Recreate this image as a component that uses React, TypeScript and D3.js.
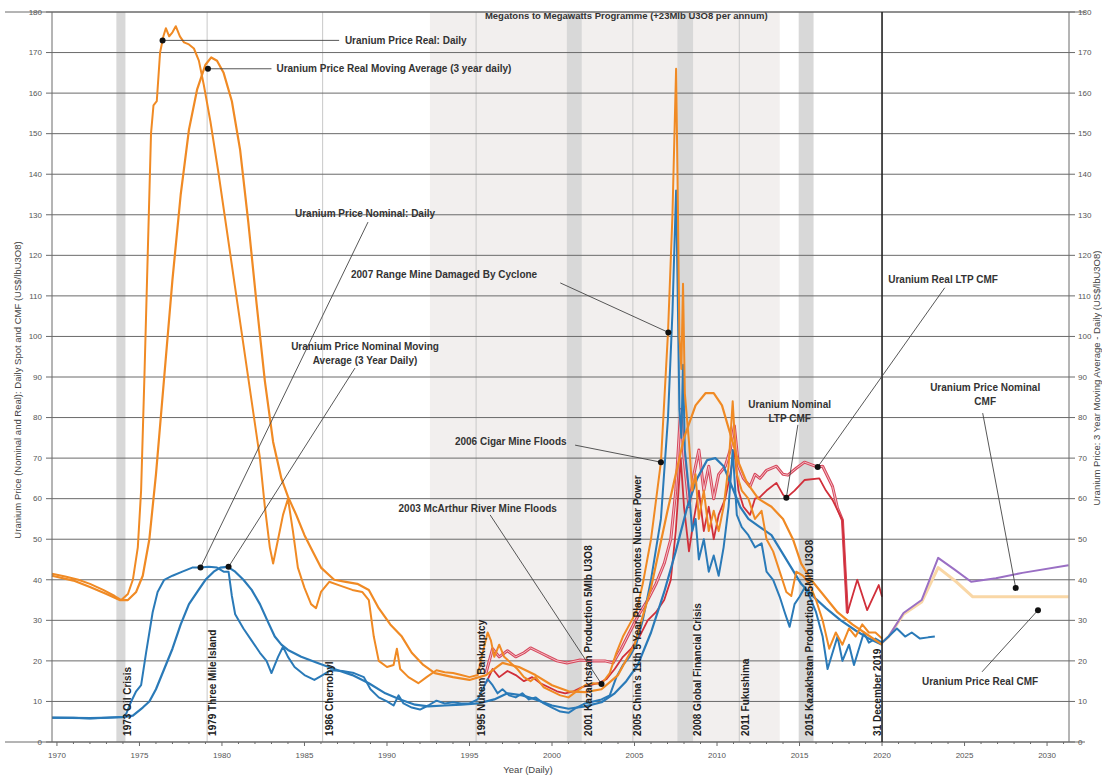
import React, { useEffect, useRef } from 'react';
import * as d3 from 'd3';

type Pt = [number, number];

// ---- series (year, US$/lb) ----
const realDaily: Pt[] = [
  [1969.7, 41.5], [1970.5, 40.8], [1971.3, 40], [1972, 39], [1972.8, 37.5], [1973.5, 36], [1973.9, 35],
  [1974.3, 36.5], [1974.6, 40], [1974.9, 48], [1975.1, 62], [1975.3, 90], [1975.5, 120], [1975.7, 150],
  [1975.85, 157], [1976.05, 158], [1976.25, 170], [1976.45, 174], [1976.6, 176], [1976.8, 174], [1977.0, 175],
  [1977.2, 176.5], [1977.45, 174], [1977.7, 172.5], [1978.0, 172], [1978.3, 171], [1978.6, 168], [1978.9, 162],
  [1979.3, 153], [1979.8, 140], [1980.3, 126], [1980.8, 112], [1981.3, 98], [1981.8, 84], [1982.3, 70],
  [1982.6, 58], [1982.9, 48], [1983.1, 44], [1983.4, 50], [1983.7, 56], [1984.0, 60], [1984.3, 52],
  [1984.6, 43], [1985.0, 38], [1985.4, 34], [1985.7, 33], [1986.0, 37], [1986.5, 39.5], [1987.2, 38.5],
  [1987.9, 37.5], [1988.5, 37], [1988.9, 35], [1989.2, 26], [1989.5, 20], [1990.0, 18.5], [1990.4, 19],
  [1990.6, 23], [1990.8, 18], [1991.3, 16], [1991.9, 14.5], [1992.4, 16], [1993.0, 17.7], [1993.5, 17.2],
  [1994.0, 17], [1994.5, 16.5], [1995.0, 16], [1995.5, 16.5], [1995.8, 22], [1996.1, 27], [1996.3, 25],
  [1996.5, 21], [1996.8, 24], [1997.1, 21], [1997.5, 19.5], [1997.9, 18], [1998.3, 16], [1998.7, 15],
  [1999.0, 16], [1999.5, 13.5], [2000.0, 12.5], [2000.5, 11.5], [2001.0, 11], [2001.5, 12.5], [2002.0, 14],
  [2002.5, 14.5], [2003.0, 14.3], [2003.5, 17], [2003.9, 22], [2004.3, 26], [2004.7, 29], [2005.1, 32],
  [2005.5, 39], [2006.0, 50], [2006.6, 69], [2007.03, 101], [2007.3, 130], [2007.52, 166], [2007.62, 135],
  [2007.72, 100], [2007.84, 92], [2007.94, 113], [2008.05, 86], [2008.3, 74], [2008.5, 62], [2008.7, 66],
  [2008.9, 55], [2009.2, 62], [2009.5, 52], [2009.8, 57], [2010.1, 52], [2010.4, 58], [2010.7, 68],
  [2010.95, 84], [2011.2, 66], [2011.5, 62], [2011.9, 60], [2012.3, 55], [2012.7, 57], [2013.0, 50],
  [2013.4, 47], [2013.8, 42], [2014.2, 37], [2014.5, 36], [2014.8, 42], [2015.2, 41], [2015.6, 39],
  [2016.0, 35], [2016.4, 30], [2016.8, 23], [2017.2, 27], [2017.6, 24], [2018.0, 28], [2018.4, 26],
  [2018.8, 29], [2019.2, 27], [2019.6, 27], [2020.0, 25.5],
];

const realMA: Pt[] = [
  [1969.7, 41], [1971, 39.8], [1972, 38.2], [1973, 36.5], [1973.8, 35], [1974.3, 35], [1974.8, 37],
  [1975.2, 41], [1975.6, 50], [1976.0, 66], [1976.5, 90], [1977.0, 114], [1977.5, 135], [1978.0, 151],
  [1978.5, 161], [1979.0, 167], [1979.35, 168.8], [1979.7, 168], [1980.1, 165], [1980.6, 158], [1981.1, 146],
  [1981.6, 128], [1982.1, 108], [1982.6, 89], [1983.1, 74], [1983.6, 65], [1984.0, 60.5], [1984.5, 56],
  [1985.0, 51], [1985.5, 47], [1986.0, 43], [1986.8, 40], [1987.5, 39.5], [1988.2, 39], [1988.9, 37.5],
  [1989.5, 33], [1990.2, 29], [1990.9, 26], [1991.5, 22], [1992.2, 19], [1992.9, 17], [1994, 16],
  [1995, 15.3], [1996, 16.5], [1997, 19.5], [1998, 18.5], [1999, 16.5], [2000, 14], [2001, 12.5],
  [2002, 12.3], [2003, 13], [2004, 16.5], [2005, 24], [2006, 38], [2007, 57], [2008, 75], [2008.7, 83],
  [2009.3, 86], [2009.8, 86], [2010.3, 83], [2010.8, 76], [2011.3, 69], [2011.8, 64], [2012.5, 60],
  [2013.3, 58], [2014.0, 55], [2014.6, 50], [2015.1, 44], [2015.7, 40], [2016.5, 36], [2017.3, 32],
  [2018.2, 29], [2019.1, 26.5], [2020.0, 24],
];

const nominalDaily: Pt[] = [
  [1969.7, 6], [1971, 6], [1972, 5.8], [1973, 6], [1974.0, 6.2], [1974.2, 7], [1974.5, 10], [1974.8, 12.5],
  [1975.1, 14], [1975.4, 22], [1975.8, 32], [1976.1, 37], [1976.5, 40], [1977.0, 41], [1977.6, 42],
  [1978.2, 43], [1978.7, 43], [1979.2, 43.2], [1979.7, 43], [1980.1, 42], [1980.4, 42], [1980.6, 36],
  [1980.8, 31.5], [1981.3, 28], [1981.8, 25], [1982.3, 22], [1982.7, 20], [1983.0, 17], [1983.4, 21],
  [1983.7, 23.5], [1984.0, 21], [1984.4, 18.5], [1985.0, 16.5], [1985.6, 15.3], [1986.1, 16.5], [1986.6, 17.7],
  [1987.3, 17.5], [1988.0, 17], [1988.6, 16], [1989.0, 13], [1989.5, 11], [1990.0, 10], [1990.4, 9],
  [1990.7, 11.5], [1991.0, 9.5], [1991.5, 8.5], [1992.0, 8], [1992.5, 9], [1993.0, 10.2], [1993.5, 9.5],
  [1994.0, 9.8], [1994.5, 9.5], [1995.0, 9.5], [1995.5, 10.5], [1995.8, 13], [1996.1, 15.5], [1996.4, 14],
  [1996.7, 12], [1997.0, 13], [1997.4, 11.5], [1997.8, 11], [1998.2, 12], [1998.6, 10.5], [1999.0, 11],
  [1999.5, 9.5], [2000.0, 8.5], [2000.5, 7.5], [2001.0, 7.2], [2001.5, 8.5], [2002.0, 9.5], [2002.5, 10],
  [2003.0, 10.5], [2003.5, 11.5], [2003.9, 16], [2004.3, 19], [2004.7, 21], [2005.1, 24], [2005.5, 30],
  [2006.0, 40], [2006.6, 55], [2007.03, 80], [2007.3, 106], [2007.52, 136], [2007.62, 110], [2007.72, 82],
  [2007.84, 75], [2007.94, 93], [2008.05, 72], [2008.3, 62], [2008.5, 52], [2008.7, 55], [2008.9, 45],
  [2009.2, 50], [2009.5, 42], [2009.8, 46], [2010.1, 41], [2010.4, 48], [2010.7, 58], [2010.95, 72],
  [2011.2, 56], [2011.5, 53], [2011.9, 51], [2012.3, 48], [2012.7, 49], [2013.0, 42], [2013.4, 40],
  [2013.8, 35.8], [2014.1, 32], [2014.4, 28.4], [2014.7, 34], [2015.0, 35.8], [2015.3, 38], [2015.6, 36],
  [2016.0, 32], [2016.4, 26], [2016.7, 18], [2017.0, 22], [2017.3, 26], [2017.6, 20], [2018.0, 24],
  [2018.3, 19], [2018.6, 23], [2018.9, 27], [2019.2, 24.5], [2019.6, 25.5], [2020.0, 24.5], [2020.4, 26],
  [2020.9, 28], [2021.4, 26], [2021.8, 27], [2022.3, 25.5], [2022.8, 25.8], [2023.2, 26],
];

const nominalMA: Pt[] = [
  [1969.7, 6], [1972, 5.9], [1974.0, 6.1], [1974.6, 6.5], [1975.2, 8.5], [1975.6, 10], [1976.0, 13],
  [1976.5, 18], [1977.0, 23], [1977.5, 29], [1978.0, 34], [1978.5, 37], [1979.0, 40], [1979.5, 42],
  [1979.9, 43], [1980.35, 43.2], [1980.8, 42], [1981.3, 40], [1981.8, 37.5], [1982.3, 34], [1982.8, 29.5],
  [1983.2, 26], [1983.6, 24], [1984.0, 22.7], [1984.8, 21], [1985.8, 19.5], [1986.8, 18], [1987.9, 16.5],
  [1988.9, 14.5], [1989.9, 12], [1990.8, 10.5], [1991.7, 9.2], [1992.5, 8.8], [1993.5, 9.0], [1994.5, 9.2],
  [1995.5, 9.5], [1996.5, 10.5], [1997.3, 12], [1998.2, 11.5], [1999.0, 10.5], [2000.0, 9], [2001.0, 8.2],
  [2002.0, 8.8], [2003.0, 9.8], [2003.8, 12], [2004.5, 15], [2005.2, 19], [2006.0, 27], [2006.8, 37],
  [2007.5, 47], [2008.2, 58], [2008.8, 65], [2009.4, 69.5], [2009.9, 70], [2010.4, 68], [2010.9, 63],
  [2011.4, 58], [2011.9, 55], [2012.6, 53], [2013.3, 51], [2013.9, 47], [2014.5, 43], [2015.1, 39],
  [2015.8, 36], [2016.6, 33], [2017.5, 30], [2018.4, 27.5], [2019.2, 25.5], [2020.0, 24],
];

const nominalLTP: Pt[] = [
  [1996.0, 14.5], [1996.4, 18], [1996.8, 16], [1997.3, 17.5], [1997.8, 16.5], [1998.3, 15], [1998.8, 16],
  [1999.3, 14.5], [1999.8, 13.5], [2000.3, 12.5], [2000.8, 12], [2001.3, 12.5], [2001.8, 13.5], [2002.3, 14],
  [2002.8, 14.5], [2003.3, 15.5], [2003.8, 18], [2004.3, 21], [2004.8, 23], [2005.3, 26], [2005.8, 30],
  [2006.3, 32], [2006.8, 35], [2007.2, 40], [2007.5, 52], [2007.8, 70], [2008.0, 58], [2008.3, 47],
  [2008.6, 55], [2008.9, 62], [2009.2, 52], [2009.5, 58], [2009.8, 50], [2010.1, 56], [2010.5, 60],
  [2010.8, 66], [2011.05, 72], [2011.3, 62], [2011.6, 58], [2012.0, 56], [2012.3, 60], [2012.6, 60.4],
  [2013.0, 62], [2013.6, 63.9], [2014.0, 61], [2014.2, 60.2], [2014.7, 62], [2015.3, 64.6], [2016.2, 65],
  [2016.6, 62], [2017.0, 59.7], [2017.6, 54.7], [2017.9, 31.8], [2018.5, 40], [2019.1, 32.5], [2019.8, 38.7],
  [2020.0, 35.8],
];

const realLTP: Pt[] = [
  [1996.0, 17], [1996.4, 23], [1996.8, 21], [1997.3, 22.5], [1997.8, 21], [1998.3, 22], [1998.7, 23.2],
  [1999.3, 22], [1999.8, 21], [2000.3, 20], [2000.9, 19.5], [2001.7, 20.2], [2002.5, 20], [2003.2, 20],
  [2003.7, 19.5], [2004.2, 23], [2004.7, 27], [2005.2, 31], [2005.8, 35], [2006.3, 39], [2006.8, 44],
  [2007.2, 50], [2007.5, 62], [2007.8, 82], [2008.0, 70], [2008.3, 58], [2008.6, 66], [2008.9, 72],
  [2009.2, 62], [2009.5, 68], [2009.8, 60], [2010.1, 66], [2010.5, 68], [2010.8, 72], [2011.05, 78],
  [2011.3, 68], [2011.6, 65], [2012.0, 63], [2012.3, 66], [2012.6, 65], [2013.0, 67], [2013.6, 68],
  [2014.0, 66], [2014.3, 65.8], [2014.8, 67.5], [2015.3, 69], [2016.1, 67.8], [2016.4, 68], [2017.0, 63],
  [2017.3, 57.7], [2017.6, 54.7], [2017.9, 31.8],
];

const nominalCMF: Pt[] = [
  [2020.0, 24.5], [2020.4, 26], [2021.3, 31.8], [2022.4, 35], [2023.4, 45.4], [2024.4, 42.5],
  [2025.4, 39.5], [2026.9, 40.4], [2028.5, 41.7], [2031.3, 43.6],
];

const realCMF: Pt[] = [
  [2020.0, 24.5], [2020.4, 26], [2021.3, 31.5], [2022.4, 34.5], [2023.4, 43], [2024.5, 39.5],
  [2025.5, 35.8], [2031.3, 35.8],
];

// ---- axes ----
const yTicks = d3.range(0, 181, 10);
const xMajor = d3.range(1970, 2031, 5);
const xMinor = d3.range(1970, 2032, 1);

// ---- events ----
const megatonsBand: Pt = [1992.6, 2013.8];
const eventBands: Pt[] = [[1973.6, 1974.15], [2000.9, 2001.8], [2007.6, 2008.55], [2014.95, 2015.85]];
const eventLines = [1979.1, 1986.1, 1995.4, 2004.9, 2011.35];
const events = [
  { year: 1974.3, text: '1973 Oil Crisis' },
  { year: 1979.45, text: '1979 Three Mile Island' },
  { year: 1986.5, text: '1986 Chernobyl' },
  { year: 1995.7, text: '1995 Nukem Bankruptcy' },
  { year: 2002.2, text: '2001 Kazakhstan Production 5Mlb U3O8' },
  { year: 2005.2, text: "2005 China's 11th 5 Year Plan Promotes Nuclear Power" },
  { year: 2008.8, text: '2008 Global Financial Crisis' },
  { year: 2011.7, text: '2011 Fukushima' },
  { year: 2015.6, text: '2015 Kazakhstan Production 55Mlb U3O8' },
  { year: 2019.7, text: '31 December 2019' },
];

// ---- callouts: dot, leader end, text position (all in data units) ----
const notes: { lines: string[]; at: Pt; anchor: string; dot: Pt; leader: Pt }[] = [
  { lines: ['Uranium Price Real: Daily'], at: [1987.45, 173], anchor: 'start', dot: [1976.4, 173], leader: [1987.1, 173] },
  { lines: ['Uranium Price Real Moving Average (3 year daily)'], at: [1983.3, 166], anchor: 'start', dot: [1979.15, 166], leader: [1983.0, 166] },
  { lines: ['Uranium Price Nominal: Daily'], at: [1988.67, 130.4], anchor: 'middle', dot: [1978.7, 43], leader: [1988.85, 128.2] },
  { lines: ['Uranium Price Nominal Moving', 'Average (3 Year Daily)'], at: [1988.67, 97.4], anchor: 'middle', dot: [1980.4, 43.2], leader: [1988.06, 92.2] },
  { lines: ['2007 Range Mine Damaged By Cyclone'], at: [1993.46, 115.2], anchor: 'middle', dot: [2007.05, 101], leader: [2000.5, 113.2] },
  { lines: ['2006 Cigar Mine Floods'], at: [1997.5, 74.2], anchor: 'middle', dot: [2006.6, 69], leader: [2001.4, 73.2] },
  { lines: ['2003 McArthur River Mine Floods'], at: [1995.5, 57.5], anchor: 'middle', dot: [2003.0, 14.3], leader: [1996.25, 56] },
  { lines: ['Uranium Nominal', 'LTP CMF'], at: [2014.4, 83.3], anchor: 'middle', dot: [2014.2, 60.2], leader: [2014.9, 78.2] },
  { lines: ['Uranium Real LTP CMF'], at: [2023.7, 114], anchor: 'middle', dot: [2016.1, 67.8], leader: [2023.8, 112] },
  { lines: ['Uranium Price Nominal', 'CMF'], at: [2026.25, 87.5], anchor: 'middle', dot: [2028.1, 38], leader: [2026.1, 81.1] },
  { lines: ['Uranium Price Real CMF'], at: [2025.94, 14.8], anchor: 'middle', dot: [2029.45, 32.5], leader: [2026.06, 17.3] },
];

const FONT = "'Liberation Sans', Arial, sans-serif";

const App: React.FC = () => {
  const ref = useRef<HTMLDivElement>(null);

  useEffect(() => {
    document.body.style.margin = '0';
    if (!ref.current) return;
    const width = 1102;
    const height = 776;
    const x = d3.scaleLinear().domain([1969.7, 2031.33]).range([52, 1069]);
    const y = d3.scaleLinear().domain([0, 180]).range([742, 12]);
    const [x0, x1] = x.range();
    const [yb, yt] = y.range();

    const svg = d3.select(ref.current).append('svg')
      .attr('width', width).attr('height', height)
      .style('font-family', FONT).style('display', 'block');

    svg.append('rect').attr('width', width).attr('height', height).attr('fill', '#fff');

    // Bands
    svg.append('rect')
      .attr('x', x(megatonsBand[0])).attr('y', yt)
      .attr('width', x(megatonsBand[1]) - x(megatonsBand[0])).attr('height', yb - yt)
      .attr('fill', '#f2efee');
    svg.selectAll('.band').data(eventBands).enter().append('rect')
      .attr('x', (d) => x(d[0])).attr('y', yt)
      .attr('width', (d) => x(d[1]) - x(d[0])).attr('height', yb - yt)
      .attr('fill', '#d8d8d8');
    svg.selectAll('.evline').data(eventLines).enter().append('line')
      .attr('x1', (d) => x(d)).attr('x2', (d) => x(d))
      .attr('y1', yt).attr('y2', yb)
      .attr('stroke', '#c8c8c8').attr('stroke-width', 1);

    svg.append('text')
      .attr('x', x(2004.5)).attr('y', yt + 7)
      .attr('text-anchor', 'middle').attr('font-size', 9.5).attr('font-weight', 'bold').attr('fill', '#333')
      .text('Megatons to Megawatts Programme (+23Mlb U3O8 per annum)');

    // Horizontal grid
    svg.selectAll('.grid').data(yTicks).enter().append('line')
      .attr('x1', x0 - 6).attr('x2', x1 + 6)
      .attr('y1', (d) => y(d)).attr('y2', (d) => y(d))
      .attr('stroke', '#6a6a6a').attr('stroke-width', 1);
    svg.append('line').attr('x1', 5).attr('x2', 1085).attr('y1', yt).attr('y2', yt).attr('stroke', '#6a6a6a');
    svg.append('line').attr('x1', 5).attr('x2', 1085).attr('y1', yb).attr('y2', yb).attr('stroke', '#6a6a6a');

    // Series
    const line = d3.line<Pt>().x((d) => x(d[0])).y((d) => y(d[1])).curve(d3.curveLinear);
    const draw = (data: Pt[], color: string, w: number) =>
      svg.append('path').datum(data).attr('d', line).attr('fill', 'none')
        .attr('stroke', color).attr('stroke-width', w).attr('stroke-linejoin', 'round');

    draw(realCMF, '#f9d7a6', 3);
    draw(nominalCMF, '#9a6fc4', 2);
    draw(realLTP, '#d6485c', 3);
    draw(realLTP, '#f4bcc5', 1);
    draw(nominalLTP, '#d12f3a', 1.8);
    draw(nominalMA, '#2a7ab8', 2.2);
    draw(nominalDaily, '#2a7ab8', 2);
    draw(realMA, '#f08a24', 2.2);
    draw(realDaily, '#f08a24', 2);

    // 31 December 2019 line
    svg.append('line').attr('x1', x(2020)).attr('x2', x(2020)).attr('y1', yt).attr('y2', yb)
      .attr('stroke', '#222').attr('stroke-width', 1.6);

    // Event labels
    svg.selectAll('.evlabel').data(events).enter().append('text')
      .attr('transform', (d) => `translate(${x(d.year)},${y(1.5)}) rotate(-90)`)
      .attr('dy', '0.35em').attr('font-size', 10).attr('font-weight', 'bold').attr('fill', '#222')
      .text((d) => d.text);

    // Callouts
    const g = svg.append('g');
    notes.forEach((n) => {
      g.append('line')
        .attr('x1', x(n.dot[0])).attr('y1', y(n.dot[1]))
        .attr('x2', x(n.leader[0])).attr('y2', y(n.leader[1]))
        .attr('stroke', '#444').attr('stroke-width', 0.9);
      g.append('circle').attr('cx', x(n.dot[0])).attr('cy', y(n.dot[1])).attr('r', 3).attr('fill', '#111');
      const t = g.append('text')
        .attr('x', x(n.at[0])).attr('y', y(n.at[1]))
        .attr('text-anchor', n.anchor).attr('font-size', 10).attr('font-weight', 'bold').attr('fill', '#333');
      n.lines.forEach((s, i) => {
        t.append('tspan').attr('x', x(n.at[0])).attr('dy', i === 0 ? '0.35em' : '1.4em').text(s);
      });
    });

    // Axes frame
    svg.append('line').attr('x1', x0).attr('x2', x0).attr('y1', yt).attr('y2', yb).attr('stroke', '#6a6a6a');
    svg.append('line').attr('x1', x1).attr('x2', x1).attr('y1', yt).attr('y2', yb).attr('stroke', '#6a6a6a');

    svg.selectAll('.yl').data(yTicks).enter().append('text')
      .attr('x', x0 - 10).attr('y', (d) => y(d)).attr('dy', '0.35em')
      .attr('text-anchor', 'end').attr('font-size', 8).attr('fill', '#555').text((d) => d);
    svg.selectAll('.yr').data(yTicks).enter().append('text')
      .attr('x', x1 + 9).attr('y', (d) => y(d)).attr('dy', '0.35em')
      .attr('text-anchor', 'start').attr('font-size', 8).attr('fill', '#555').text((d) => d);

    svg.selectAll('.xm').data(xMinor.filter((d) => x(d) <= x1)).enter().append('line')
      .attr('x1', (d) => x(d)).attr('x2', (d) => x(d))
      .attr('y1', yb).attr('y2', (d) => yb + (d % 5 === 0 ? 4 : 2))
      .attr('stroke', '#6a6a6a');
    svg.selectAll('.xl').data(xMajor).enter().append('text')
      .attr('x', (d) => x(d)).attr('y', yb + 16)
      .attr('text-anchor', 'middle').attr('font-size', 8).attr('fill', '#555').text((d) => d);

    svg.append('text').attr('x', 528).attr('y', 773).attr('text-anchor', 'middle')
      .attr('font-size', 9.5).attr('fill', '#444').text('Year (Daily)');
    svg.append('text').attr('transform', `translate(18,${390}) rotate(-90)`)
      .attr('dy', '0.35em').attr('text-anchor', 'middle').attr('font-size', 9.5).attr('fill', '#444')
      .text('Uranium Price (Nominal and Real): Daily Spot and CMF (US$/lbU3O8)');
    svg.append('text').attr('transform', `translate(1097,${378}) rotate(-90)`)
      .attr('dy', '0.35em').attr('text-anchor', 'middle').attr('font-size', 9.5).attr('fill', '#444')
      .text('Uranium Price: 3 Year Moving Average - Daily (US$/lbU3O8)');

    return () => {
      svg.remove();
    };
  }, []);

  return <div ref={ref} />;
};

export default App;
